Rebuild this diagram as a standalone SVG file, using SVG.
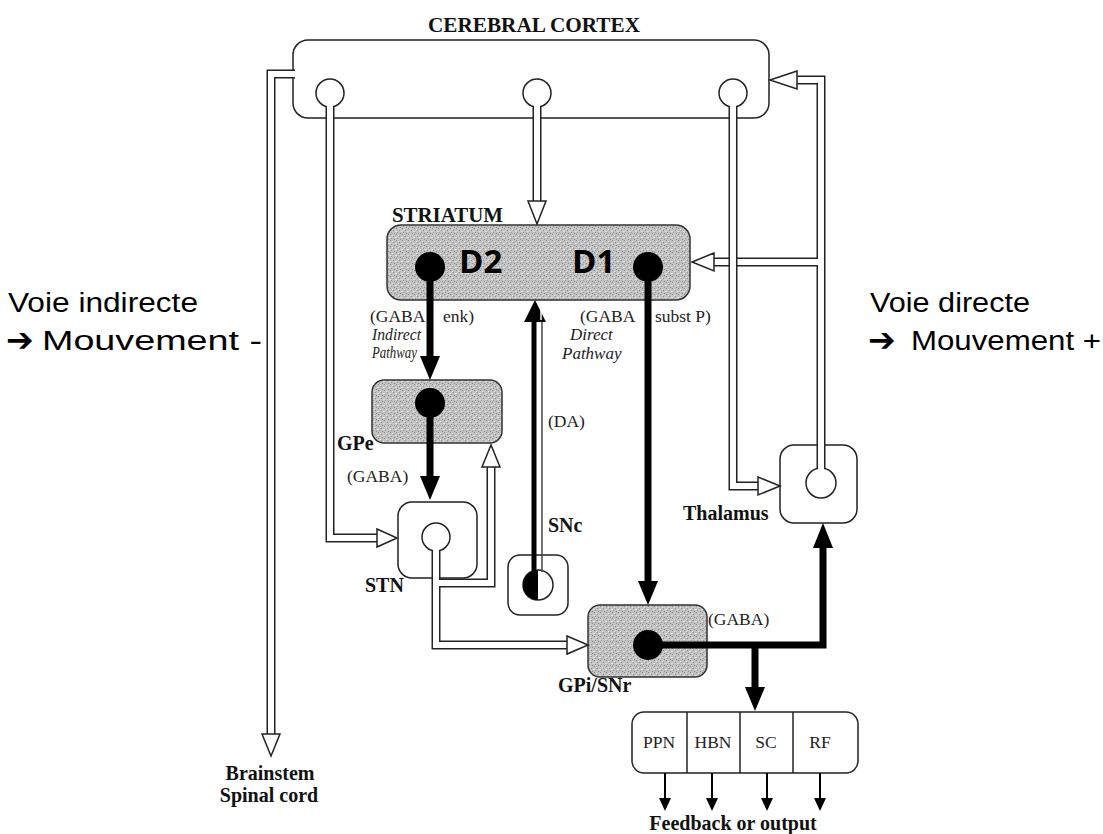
<svg xmlns="http://www.w3.org/2000/svg" width="1103" height="834" viewBox="0 0 1103 834">
<defs>
<pattern id="grain" width="6" height="6" patternUnits="userSpaceOnUse">
<rect width="6" height="6" fill="#c2c2c2"/>
<rect x="0" y="0" width="1" height="1" fill="#8a8a8a"/>
<rect x="3" y="2" width="1" height="1" fill="#909090"/>
<rect x="1" y="4" width="1" height="1" fill="#9a9a9a"/>
<rect x="4" y="5" width="1" height="1" fill="#888"/>
<rect x="2" y="1" width="1" height="1" fill="#e6e6e6"/>
<rect x="5" y="3" width="1" height="1" fill="#e2e2e2"/>
<rect x="0" y="3" width="1" height="1" fill="#dcdcdc"/>
</pattern>
<style>
.box{fill:#fff;stroke:#222;stroke-width:1.5}
.gbox{fill:url(#grain);stroke:#333;stroke-width:1.5}
.cell{fill:#fff;stroke:#222;stroke-width:1.5}
.dot{fill:#000}
.lbl{font-family:"Liberation Serif","Times New Roman",serif;font-weight:bold;font-size:20px;fill:#111}
.sm{font-family:"Liberation Serif","Times New Roman",serif;font-size:17.5px;fill:#222}
.it{font-family:"Liberation Serif","Times New Roman",serif;font-style:italic;font-size:17px;fill:#222}
.dd{font-family:"Open Sans","DejaVu Sans",sans-serif;font-weight:bold;font-size:33px;fill:#000}
.side{font-family:"Liberation Sans",Arial,sans-serif;font-size:27px;fill:#000}
.arr{font-family:"DejaVu Sans",sans-serif;font-weight:bold;font-size:33px;fill:#000}
.ho{fill:none;stroke:#222;stroke-width:9;stroke-linejoin:miter}
.hi{fill:none;stroke:#fff;stroke-width:6;stroke-linejoin:miter}
.hh{fill:#fff;stroke:#222;stroke-width:1.5;stroke-linejoin:miter}
.thick{fill:none;stroke:#000;stroke-width:7;stroke-linejoin:miter}
.thin{fill:none;stroke:#000;stroke-width:2}
.bh{fill:#000}
</style>
</defs>
<rect width="1103" height="834" fill="#fff"/>

<g id="side-labels">
<text class="side" x="8" y="312" textLength="190" lengthAdjust="spacingAndGlyphs">Voie indirecte</text>
<text class="arr" x="6" y="351">➔</text>
<text class="side" x="42" y="350" textLength="220" lengthAdjust="spacingAndGlyphs">Mouvement -</text>
<text class="side" x="870" y="312" textLength="160" lengthAdjust="spacingAndGlyphs">Voie directe</text>
<text class="arr" x="868" y="351">➔</text>
<text class="side" x="911" y="350" textLength="190" lengthAdjust="spacingAndGlyphs">Mouvement +</text>
</g>

<g id="cortex">
<text class="lbl" x="428" y="32" textLength="212" lengthAdjust="spacingAndGlyphs">CEREBRAL CORTEX</text>
<rect class="box" x="293" y="40" width="476" height="78" rx="15"/>
<circle class="cell" cx="330" cy="93" r="14"/>
<circle class="cell" cx="537" cy="93" r="14"/>
<circle class="cell" cx="733" cy="93" r="14"/>
</g>

<g id="striatum">
<text class="lbl" x="392" y="222" textLength="111" lengthAdjust="spacingAndGlyphs">STRIATUM</text>
<rect class="gbox" x="387" y="225" width="303" height="75" rx="14"/>
<circle class="dot" cx="430" cy="267" r="15"/>
<circle class="dot" cx="648" cy="267" r="15"/>
<text class="dd" x="459" y="273">D2</text>
<text class="dd" x="572" y="273">D1</text>
<text class="sm" x="370" y="322">(GABA</text>
<text class="sm" x="443" y="322">enk)</text>
<text class="it" x="372" y="340" textLength="49" lengthAdjust="spacingAndGlyphs">Indirect</text>
<text class="it" x="372" y="358" textLength="45" lengthAdjust="spacingAndGlyphs">Pathway</text>
<text class="sm" x="580" y="322">(GABA</text>
<text class="sm" x="655" y="322">subst P)</text>
<text class="it" x="570" y="340">Direct</text>
<text class="it" x="562" y="359">Pathway</text>
</g>

<g id="gpe">
<rect class="gbox" x="372" y="380" width="130" height="63" rx="12"/>
<circle class="dot" cx="430" cy="403" r="15"/>
<text class="lbl" x="337" y="450">GPe</text>
<text class="sm" x="347" y="482">(GABA)</text>
</g>

<g id="stn">
<rect class="box" x="398" y="502" width="79" height="76" rx="14"/>
<circle class="cell" cx="436" cy="537" r="14"/>
<text class="lbl" x="365" y="592">STN</text>
</g>

<g id="snc">
<rect class="box" x="508" y="555" width="60" height="60" rx="12"/>
<circle class="cell" cx="538" cy="585" r="15" fill="#fff"/>
<path d="M538,570 A15,15 0 0 0 538,600 Z" fill="#000"/>
<text class="lbl" x="548" y="532">SNc</text>
<text class="sm" x="548" y="427">(DA)</text>
</g>

<g id="gpi-snr">
<rect class="gbox" x="588" y="605" width="119" height="72" rx="12"/>
<circle class="dot" cx="648" cy="645" r="15"/>
<text class="lbl" x="558" y="692">GPi/SNr</text>
<text class="sm" x="708" y="625">(GABA)</text>
</g>

<g id="thalamus">
<rect class="box" x="780" y="445" width="77" height="78" rx="14"/>
<circle class="cell" cx="821" cy="483" r="15"/>
<text class="lbl" x="683" y="520">Thalamus</text>
</g>

<g id="outputs">
<rect class="box" x="632" y="712" width="226" height="61" rx="12"/>
<line x1="687" y1="712" x2="687" y2="773" stroke="#222" stroke-width="1.5"/>
<line x1="740" y1="712" x2="740" y2="773" stroke="#222" stroke-width="1.5"/>
<line x1="793" y1="712" x2="793" y2="773" stroke="#222" stroke-width="1.5"/>
<text class="sm" x="659" y="748" text-anchor="middle">PPN</text>
<text class="sm" x="713" y="748" text-anchor="middle">HBN</text>
<text class="sm" x="766" y="748" text-anchor="middle">SC</text>
<text class="sm" x="820" y="748" text-anchor="middle">RF</text>
<text class="lbl" x="733" y="830" text-anchor="middle">Feedback or output</text>
</g>

<g id="brainstem">
<text class="lbl" x="270" y="780" text-anchor="middle">Brainstem</text>
<text class="lbl" x="269" y="802" text-anchor="middle">Spinal cord</text>
</g>

<g id="connectors">
<path class="ho" d="M821,469 V80 H797 M821,262 H714"/>
<path class="hi" d="M821,470 V80 H797 M821,262 H714"/>
<polygon class="hh" points="797,71 770,80 797,89"/>
<polygon class="hh" points="714,253 692,262 714,271"/>
<path class="ho" d="M733,106 V486 H759"/>
<path class="hi" d="M733,105 V486 H759"/>
<polygon class="hh" points="758,477 780,486 758,495"/>
<path class="ho" d="M537,106 V201"/>
<path class="hi" d="M537,105 V201"/>
<polygon class="hh" points="528,201 546,201 537,224"/>
<path class="ho" d="M330,106 V538 H378"/>
<path class="hi" d="M330,105 V538 H378"/>
<polygon class="hh" points="377,529 397,538 377,547"/>
<path class="ho" d="M295,74 H271 V735"/>
<path class="hi" d="M295,74 H271 V735"/>
<polygon class="hh" points="262,734 271,756 280,734"/>
<path class="ho" d="M436,550 V645 H567 M436,583 H491 V467"/>
<path class="hi" d="M436,549 V645 H567 M436,583 H491 V467"/>
<polygon class="hh" points="567,636 588,645 567,654"/>
<polygon class="hh" points="482,467 491,445 500,467"/>
<line x1="534" y1="572" x2="534" y2="320" stroke="#000" stroke-width="5"/>
<line x1="542" y1="572" x2="542" y2="320" stroke="#444" stroke-width="1.5"/>
<polygon class="bh" points="524,322 546,322 535,300"/>
<line x1="541" y1="306" x2="541" y2="320" stroke="#fff" stroke-width="1.5"/>
<line class="thick" x1="430" y1="267" x2="430" y2="358"/>
<polygon class="bh" points="420,356 440,356 430,380"/>
<line class="thick" x1="430" y1="403" x2="430" y2="478"/>
<polygon class="bh" points="420,476 440,476 430,500"/>
<line class="thick" x1="648" y1="267" x2="648" y2="583"/>
<polygon class="bh" points="638,581 658,581 648,605"/>
<path class="thick" d="M648,645 H823 V546"/>
<polygon class="bh" points="813,548 833,548 823,523"/>
<line class="thick" x1="755" y1="645" x2="755" y2="689"/>
<polygon class="bh" points="745,687 765,687 755,711"/>
<line class="thin" x1="665" y1="773" x2="665" y2="800"/>
<polygon class="bh" points="659,798 671,798 665,811"/>
<line class="thin" x1="712" y1="773" x2="712" y2="800"/>
<polygon class="bh" points="706,798 718,798 712,811"/>
<line class="thin" x1="767" y1="773" x2="767" y2="800"/>
<polygon class="bh" points="761,798 773,798 767,811"/>
<line class="thin" x1="820" y1="773" x2="820" y2="800"/>
<polygon class="bh" points="814,798 826,798 820,811"/>
</g>
</svg>
